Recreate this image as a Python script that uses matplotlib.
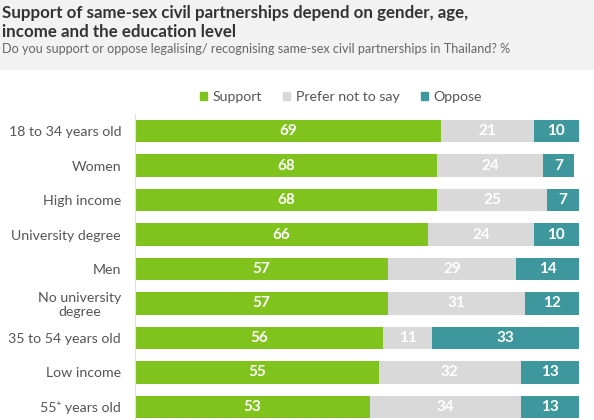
import matplotlib.pyplot as plt
from matplotlib.patches import Rectangle

plt.rcParams['font.family'] = ['Lato', 'DejaVu Sans']

groups = ['18 to 34 years old', 'Women', 'High income', 'University degree', 'Men',
          'No university\ndegree', '35 to 54 years old', 'Low income', '55⁺ years old']
support = [69, 68, 68, 66, 57, 57, 56, 55, 53]
prefer_not = [21, 24, 25, 24, 29, 31, 11, 32, 34]
oppose = [10, 7, 7, 10, 14, 12, 33, 13, 13]

series = ['Support', 'Prefer not to say', 'Oppose']
colors = ['#7fc31c', '#d9d9d9', '#3e979c']

fig = plt.figure(figsize=(5.94, 4.2), dpi=100)
fig.patch.set_facecolor('white')

# grey header band
fig.patches.append(Rectangle((0, 1 - 70 / 420), 1, 70 / 420, transform=fig.transFigure,
                             facecolor='#f2f2f2', edgecolor='none', zorder=0))
fig.text(0.004, 0.988, 'Support of same-sex civil partnerships depend on gender, age,\nincome and the education level',
         ha='left', va='top', fontsize=12.2, fontweight='bold', color='#333333', linespacing=1.2)
fig.text(0.004, 0.898, 'Do you support or oppose legalising/ recognising same-sex civil partnerships in Thailand? %',
         ha='left', va='top', fontsize=9.1, color='#666666')

ax = fig.add_axes([135 / 594, 0, 443.5 / 594, 306 / 420])
ypos = list(range(len(groups)))
left = [0] * len(groups)
for vals, col in zip([support, prefer_not, oppose], colors):
    ax.barh(ypos, vals, left=left, height=0.64, color=col, edgecolor='none')
    for y, l, v in zip(ypos, left, vals):
        ax.text(l + v / 2, y, str(v), ha='center', va='center', color='white',
                fontsize=11, fontweight='bold')
    left = [a + b for a, b in zip(left, vals)]

ax.set_xlim(0, 100)
ax.set_ylim(8.377, -0.493)
ax.set_yticks(ypos)
ax.set_yticklabels(groups, fontsize=10.2, color='#555555', multialignment='center')
ax.tick_params(axis='y', length=0, pad=10)
ax.set_xticks([])
for s in ['top', 'right', 'bottom']:
    ax.spines[s].set_visible(False)
ax.spines['left'].set_color('#e0e0e0')
ax.spines['left'].set_linewidth(0.8)

handles = [Rectangle((0, 0), 1, 1, color=c) for c in colors]
fig.legend(handles, series, loc='center', bbox_to_anchor=(341 / 594, 1 - 97 / 420), ncol=3,
           frameon=False, fontsize=10.2, handlelength=0.5, handleheight=0.5, handletextpad=0.4,
           columnspacing=1.5, labelcolor='#555555')

fig.savefig('out.png', dpi=100)
